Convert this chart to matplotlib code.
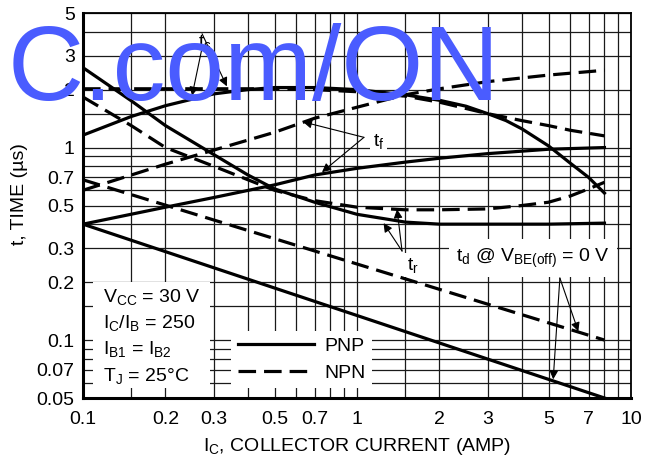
import matplotlib.pyplot as plt
from matplotlib.patches import Rectangle

plt.rcParams['font.family'] = ['Liberation Sans Narrow', 'Liberation Sans', 'DejaVu Sans']
plt.rcParams['mathtext.default'] = 'regular'

## switching times (IC in A, t in us)
# storage time t_s
ts_pnp_x = [0.1, 0.15, 0.2, 0.3, 0.4, 0.5, 0.7, 1, 1.5, 2, 2.5, 3, 3.5, 4, 5, 6, 7, 8]
ts_pnp_y = [1.16, 1.45, 1.65, 1.9, 2.0, 2.05, 2.05, 2.0, 1.88, 1.76, 1.64, 1.5, 1.38, 1.25, 1.02, 0.83, 0.7, 0.58]
ts_npn_x = [0.1, 0.2, 0.3, 0.5, 0.7, 1, 1.5, 2, 3, 4, 5, 6, 8]
ts_npn_y = [2.02, 2.02, 2.02, 2.02, 2.0, 1.95, 1.85, 1.72, 1.5, 1.38, 1.3, 1.23, 1.15]
# fall time t_f
tf_pnp_x = [0.1, 0.2, 0.3, 0.5, 0.7, 1, 1.5, 2, 3, 5, 8]
tf_pnp_y = [0.4, 0.49, 0.55, 0.64, 0.72, 0.78, 0.84, 0.88, 0.93, 0.98, 1.0]
tf_npn_x = [0.1, 0.15, 0.2, 0.3, 0.5, 0.7, 1, 1.5, 2, 3, 5, 8]
tf_npn_y = [0.6, 0.72, 0.82, 0.97, 1.2, 1.42, 1.62, 1.88, 2.02, 2.2, 2.38, 2.52]
# rise time t_r
tr_pnp_x = [0.1, 0.15, 0.2, 0.3, 0.4, 0.5, 0.7, 1, 1.5, 2, 3, 5, 8]
tr_pnp_y = [2.6, 1.75, 1.3, 0.92, 0.72, 0.61, 0.52, 0.45, 0.41, 0.4, 0.4, 0.4, 0.405]
tr_npn_x = [0.1, 0.15, 0.2, 0.3, 0.4, 0.5, 0.7, 1, 1.5, 2, 3, 4, 5, 6, 7, 8]
tr_npn_y = [1.83, 1.3, 1.0, 0.8, 0.68, 0.6, 0.53, 0.49, 0.475, 0.475, 0.48, 0.5, 0.52, 0.56, 0.61, 0.66]
# delay time t_d
td_pnp_x = [0.1, 8]
td_pnp_y = [0.4, 0.05]
td_npn_x = [0.1, 8]
td_npn_y = [0.68, 0.1]

x_grid = [0.1, 0.15, 0.2, 0.3, 0.4, 0.5, 0.6, 0.7, 0.8, 0.9, 1, 1.5, 2, 3, 4, 5, 6, 7, 8, 9, 10]
y_grid = [0.05, 0.06, 0.07, 0.08, 0.09, 0.1, 0.15, 0.2, 0.3, 0.4, 0.5, 0.6, 0.7, 0.8, 0.9,
          1, 1.5, 2, 3, 4, 5]
x_ticks = [0.1, 0.2, 0.3, 0.5, 0.7, 1, 2, 3, 5, 7, 10]
x_labels = ['0.1', '0.2', '0.3', '0.5', '0.7', '1', '2', '3', '5', '7', '10']
y_ticks = [0.05, 0.07, 0.1, 0.2, 0.3, 0.5, 0.7, 1, 2, 3, 5]
y_labels = ['0.05', '0.07', '0.1', '0.2', '0.3', '0.5', '0.7', '1', '2', '3', '5']

fig = plt.figure(figsize=(6.5, 4.58), dpi=100)
ax = fig.add_axes([0.1277, 0.131, 0.8431, 0.8406])
ax.set_xscale('log')
ax.set_yscale('log')
ax.set_xlim(0.1, 10)
ax.set_ylim(0.05, 5)

ax.set_xticks(x_grid, minor=True)
ax.set_yticks(y_grid, minor=True)
ax.set_xticks(x_ticks, x_labels)
ax.set_yticks(y_ticks, y_labels)
ax.xaxis.set_minor_formatter(plt.NullFormatter())
ax.yaxis.set_minor_formatter(plt.NullFormatter())
ax.tick_params(which='both', length=0, labelsize=14)
ax.tick_params(axis='x', pad=9)
ax.tick_params(axis='y', pad=6)
ax.set_axisbelow(True)
ax.grid(which='both', color='#1a1a1a', lw=0.9)
for s in ax.spines.values():
    s.set_linewidth(1.3)
ax.spines['left'].set_linewidth(2.2)
ax.spines['bottom'].set_linewidth(2.2)

lw = 2.3
dash = (0, (5.5, 2.5))
ax.plot(ts_pnp_x, ts_pnp_y, color='black', lw=lw, label='PNP', zorder=3)
ax.plot(ts_npn_x, ts_npn_y, color='black', lw=lw, ls=dash, label='NPN', zorder=3)
ax.plot(tf_pnp_x, tf_pnp_y, color='black', lw=lw, zorder=3)
ax.plot(tf_npn_x, tf_npn_y, color='black', lw=lw, ls=dash, zorder=3)
ax.plot(tr_pnp_x, tr_pnp_y, color='black', lw=lw, zorder=3)
ax.plot(tr_npn_x, tr_npn_y, color='black', lw=lw, ls=dash, zorder=3)
ax.plot(td_pnp_x, td_pnp_y, color='black', lw=lw, zorder=3)
ax.plot(td_npn_x, td_npn_y, color='black', lw=lw, ls=dash, zorder=3)

# white panel that blanks out the grid behind the test conditions
ax.add_patch(Rectangle((0.018, 0.026), 0.214, 0.275, transform=ax.transAxes,
                       facecolor='white', edgecolor='none', zorder=1))

cond = ['$V_{CC}$ = 30 V', '$I_C/I_B$ = 250', '$I_{B1}$ = $I_{B2}$', '$T_J$ = 25°C']
for i, s in enumerate(cond):
    ax.text(0.0365, 0.249 - i * 0.068, s, transform=ax.transAxes, fontsize=14,
            va='baseline', ha='left', zorder=4)

leg = ax.legend(loc='lower left', bbox_to_anchor=(0.27, 0.025), fontsize=14,
                frameon=True, fancybox=False, framealpha=1, facecolor='white',
                edgecolor='none', handlelength=3.9, handletextpad=0.55,
                labelspacing=0.45, borderpad=0.35, borderaxespad=0)
leg.set_zorder(4)

arrow = dict(arrowstyle='-|>', color='black', lw=0.8, mutation_scale=13, shrinkA=0, shrinkB=0)

# t_s
ax.text(0.279, 3.5, '$t_s$', fontsize=14, ha='center', va='center', zorder=5)
ax.annotate('', xy=(0.335, 2.08), xytext=(0.272, 3.9), arrowprops=arrow, zorder=5)
ax.annotate('', xy=(0.25, 1.86), xytext=(0.272, 3.3), arrowprops=arrow, zorder=5)

# t_f
ax.text(1.2, 1.08, '$t_f$', fontsize=14, ha='center', va='center', zorder=5,
        bbox=dict(facecolor='white', edgecolor='none', pad=2))
ax.annotate('', xy=(0.635, 1.36), xytext=(1.06, 1.13), arrowprops=arrow, zorder=5)
ax.annotate('', xy=(0.745, 0.745), xytext=(1.06, 1.13), arrowprops=arrow, zorder=5)

# t_r
ax.text(1.6, 0.245, '$t_r$', fontsize=14, ha='center', va='center', zorder=5,
        bbox=dict(facecolor='white', edgecolor='none', pad=2))
ax.annotate('', xy=(1.25, 0.405), xytext=(1.46, 0.29), arrowprops=arrow, zorder=5)
ax.annotate('', xy=(1.40, 0.478), xytext=(1.46, 0.29), arrowprops=arrow, zorder=5)

# t_d
ax.text(4.4, 0.267, '$t_d$ @ $V_{BE(off)}$ = 0 V', fontsize=14, ha='center', va='center',
        zorder=5, bbox=dict(facecolor='white', edgecolor='none', pad=5))
ax.annotate('', xy=(6.42, 0.111), xytext=(5.5, 0.21), arrowprops=arrow, zorder=5)
ax.annotate('', xy=(5.2, 0.0625), xytext=(5.5, 0.21), arrowprops=arrow, zorder=5)

ax.set_xlabel('$I_C$, COLLECTOR CURRENT (AMP)', fontsize=14)
ax.set_ylabel('t, TIME (µs)', fontsize=14)
ax.xaxis.set_label_coords(0.5, -0.098)
ax.yaxis.set_label_coords(-0.1, 0.53)

# watermark over the whole plot
fig.text(0.012, 0.782, 'C.com/ON', fontsize=76, color='#4a5cff', ha='left',
         va='baseline', zorder=20)

fig.savefig('out.png', dpi=100)
